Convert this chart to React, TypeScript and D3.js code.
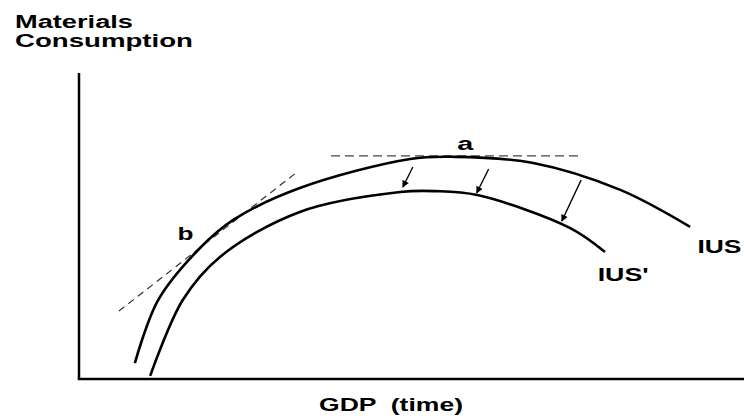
import React from "react";
import * as d3 from "d3";

// Curve IUS (outer) and IUS' (inner): [GDP index, consumption index]
const iusX = [8.4, 11.9, 18.2, 23.2, 33.2, 49.8, 56.5, 68.3, 81.4, 91.9];
const iusY = [5.2, 25.8, 42.8, 52.0, 62.4, 71.9, 72.6, 70.6, 61.8, 49.7];
const iusPrimeX = [10.7, 15.6, 21.2, 33.2, 48.3, 53.5, 59.9, 73.8, 79.1];
const iusPrimeY = [1.0, 25.8, 39.9, 54.6, 61.1, 61.4, 60.1, 49.4, 41.5];

// tangent lines a and b
const tangentA = [[37.9, 72.9], [75.3, 72.9]];
const tangentB = [[6.0, 22.2], [32.6, 67.3]];

// shift arrows [x1, y1, x2, y2]
const arrowsData = [
  [50.2, 69.3, 48.7, 62.7],
  [61.6, 68.6, 59.8, 60.8],
  [75.5, 65.0, 72.6, 51.6],
];

const yTitle = ["Materials", "Consumption"];
const xTitle = "GDP  (time)";
const labels = [
  { text: "a", x: 56.9, y: 74.7, w: 16 },
  { text: "b", x: 14.8, y: 45.4, w: 16 },
  { text: "IUS", x: 93.0, y: 41.2, w: 44 },
  { text: "IUS'", x: 78.0, y: 32.0, w: 51 },
];

const W = 744;
const H = 416;
const FONT = "'Liberation Sans', Arial, Helvetica, sans-serif";

export default function App() {
  const x = d3.scaleLinear().domain([0, 100]).range([79, 744]);
  const y = d3.scaleLinear().domain([0, 100]).range([379, 73]);

  const line = d3
    .line<[number, number]>()
    .x((d) => x(d[0]))
    .y((d) => y(d[1]))
    .curve(d3.curveCatmullRom.alpha(0.5));
  const straight = d3
    .line<number[]>()
    .x((d) => x(d[0]))
    .y((d) => y(d[1]));

  const ius = iusX.map((v, i) => [v, iusY[i]] as [number, number]);
  const iusP = iusPrimeX.map((v, i) => [v, iusPrimeY[i]] as [number, number]);

  const textStyle = {
    fontFamily: FONT,
    fontWeight: 700,
    fontSize: 18,
    fill: "#000",
  } as React.CSSProperties;

  return (
    <div style={{ position: "fixed", left: 0, top: 0, width: W, height: H, background: "#fff" }}>
      <svg width={W} height={H} viewBox={`0 0 ${W} ${H}`}>
        <defs>
          <marker
            id="ah"
            viewBox="0 0 10 10"
            refX="9"
            refY="5"
            markerWidth="8"
            markerHeight="7"
            markerUnits="userSpaceOnUse"
            orient="auto"
          >
            <path d="M0,0 L10,5 L0,10 z" fill="#000" />
          </marker>
        </defs>
        <rect x={0} y={0} width={W} height={H} fill="#fff" />

        {/* axes */}
        <line x1={x(0)} y1={y(100)} x2={x(0)} y2={y(0)} stroke="#000" strokeWidth={2.5} />
        <line x1={x(0) - 1.25} y1={y(0)} x2={x(100)} y2={y(0)} stroke="#000" strokeWidth={2.5} />

        {/* tangents */}
        <path d={straight(tangentA) || ""} stroke="#444" strokeWidth={1.3} strokeDasharray="9 5" fill="none" />
        <path d={straight(tangentB) || ""} stroke="#333" strokeWidth={1.2} strokeDasharray="7 5" fill="none" />

        {/* curves */}
        <path d={line(ius) || ""} stroke="#000" strokeWidth={2.6} fill="none" />
        <path d={line(iusP) || ""} stroke="#000" strokeWidth={2.6} fill="none" />

        {/* arrows */}
        {arrowsData.map((a, i) => (
          <line
            key={i}
            x1={x(a[0])}
            y1={y(a[1])}
            x2={x(a[2])}
            y2={y(a[3])}
            stroke="#000"
            strokeWidth={1.3}
            markerEnd="url(#ah)"
          />
        ))}

        {/* labels */}
        {labels.map((l) => (
          <text key={l.text} x={x(l.x)} y={y(l.y)} style={textStyle} textLength={l.w} lengthAdjust="spacingAndGlyphs">
            {l.text}
          </text>
        ))}

        {/* axis titles */}
        <text x={15} y={27.5} style={textStyle} textLength={118} lengthAdjust="spacingAndGlyphs">
          {yTitle[0]}
        </text>
        <text x={15} y={46.7} style={textStyle} textLength={178} lengthAdjust="spacingAndGlyphs">
          {yTitle[1]}
        </text>
        <text x={319} y={410.5} style={{ ...textStyle, whiteSpace: "pre" }} textLength={144} lengthAdjust="spacingAndGlyphs">
          {xTitle}
        </text>
      </svg>
    </div>
  );
}
